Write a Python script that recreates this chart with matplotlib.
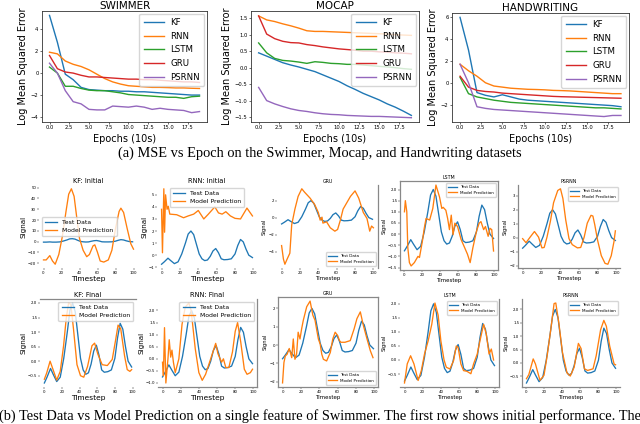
import matplotlib
matplotlib.use("Agg")
import matplotlib.pyplot as plt

W, H = 640, 424

# ---------------- (a) MSE vs epoch ----------------
epochs = list(range(20))
models = ["KF", "RNN", "LSTM", "GRU", "PSRNN"]

swimmer_kf = [5.25, 2.8, -0.1, -0.6, -1.3, -1.5, -1.55, -1.6, -1.6, -1.65, -1.65, -1.7, -1.7, -1.75, -1.8, -1.85, -1.9, -1.95, -2.0, -2.0]
swimmer_rnn = [1.9, 1.75, 1.1, 0.8, 0.6, 0.3, -0.1, -0.5, -0.8, -1.0, -1.15, -1.2, -1.25, -1.3, -1.3, -1.32, -1.35, -1.35, -1.38, -1.4]
swimmer_lstm = [0.55, 0.0, -1.2, -1.2, -1.4, -1.55, -1.6, -1.6, -1.7, -1.8, -1.95, -2.0, -2.05, -2.1, -2.15, -2.2, -2.2, -2.3, -2.15, -2.1]
swimmer_gru = [1.6, 0.4, 0.1, 0.0, -0.2, -0.35, -0.35, -0.4, -0.45, -0.5, -0.55, -0.55, -0.6, -0.6, -0.65, -0.7, -0.75, -0.8, -0.8, -0.85]
swimmer_psrnn = [0.9, 0.0, -1.6, -2.6, -2.8, -3.3, -3.35, -3.35, -3.0, -3.05, -3.1, -3.0, -3.1, -3.3, -3.2, -3.3, -3.35, -3.4, -3.6, -3.5]

mocap_kf = [0.45, 0.35, 0.25, 0.15, 0.08, 0.02, -0.05, -0.12, -0.22, -0.32, -0.42, -0.55, -0.66, -0.78, -0.88, -0.98, -1.1, -1.2, -1.32, -1.45]
mocap_rnn = [1.57, 1.45, 1.4, 1.33, 1.27, 1.2, 1.12, 1.1, 1.1, 1.09, 1.08, 1.07, 1.06, 1.05, 1.04, 1.03, 1.02, 1.0, 0.99, 0.98]
mocap_lstm = [0.75, 0.45, 0.28, 0.22, 0.2, 0.17, 0.13, 0.18, 0.16, 0.13, 0.12, 0.1, 0.1, 0.08, 0.06, 0.04, 0.02, 0.0, -0.03, -0.05]
mocap_gru = [1.57, 1.02, 0.88, 0.8, 0.76, 0.75, 0.7, 0.67, 0.63, 0.6, 0.57, 0.55, 0.53, 0.5, 0.5, 0.48, 0.47, 0.45, 0.44, 0.42]
mocap_psrnn = [-0.6, -1.0, -1.1, -1.18, -1.25, -1.3, -1.33, -1.37, -1.4, -1.42, -1.43, -1.45, -1.46, -1.47, -1.48, -1.48, -1.49, -1.5, -1.51, -1.52]

hw_kf = [6.0, 3.0, -0.9, -1.15, -1.3, -1.1, -1.3, -1.5, -1.6, -1.65, -1.7, -1.75, -1.8, -1.85, -1.9, -1.95, -2.0, -2.05, -2.1, -2.2]
hw_rnn = [1.7, 1.1, 0.6, 0.0, -0.3, -0.4, -0.5, -0.55, -0.6, -0.62, -0.65, -0.7, -0.72, -0.75, -0.8, -0.85, -0.9, -0.95, -1.0, -1.0]
hw_lstm = [0.5, -1.0, -1.3, -1.45, -1.6, -1.7, -1.8, -1.85, -1.9, -1.95, -2.0, -2.05, -2.1, -2.15, -2.2, -2.25, -2.3, -2.3, -2.35, -2.4]
hw_gru = [0.6, -0.4, -0.7, -0.8, -0.85, -0.95, -1.0, -1.05, -1.1, -1.15, -1.2, -1.25, -1.28, -1.3, -1.32, -1.34, -1.36, -1.38, -1.4, -1.42]
hw_psrnn = [1.7, 0.0, -2.2, -2.35, -2.45, -2.5, -2.55, -2.6, -2.65, -2.7, -2.75, -2.8, -2.85, -2.9, -2.95, -3.0, -3.05, -3.1, -3.0, -3.0]

# ---------------- (b) test data vs prediction ----------------
test_t = [0, 3, 7, 10, 14, 18, 22, 26, 29, 32, 35, 38, 41, 44, 47, 50, 53, 56, 59, 62, 65, 68, 72, 76, 80, 83, 86, 89, 92, 95, 99]
test_v = [-0.75, -0.55, -0.25, -0.45, -0.7, -0.55, 0.1, 1.0, 1.75, 2.0, 1.7, 0.9, 0.1, -0.3, -0.45, -0.4, -0.1, 0.35, 0.55, 0.2, -0.3, -0.38, -0.36, -0.3, 0.1, 0.8, 1.3, 1.1, 0.5, 0.0, -0.2]

kf_init_t = [0, 3, 7, 10, 13, 17, 21, 25, 28, 31, 34, 37, 40, 44, 48, 51, 55, 57, 60, 63, 67, 72, 76, 80, 84, 86, 89, 93, 97, 100]
kf_init_v = [-17, -17, -13, -18, -21, -12, 5, 28, 44, 49, 42, 22, 3, -8, -14, -12, -4, -3, -10, -18, -19, -17, -8, 12, 28, 31, 27, 12, -2, -7]
kf_init_test = [-0.5, -0.5, -0.3, -0.5, -0.5, -0.3, 0.5, 1.5, 2.5, 2.7, 2.3, 1.2, 0.2, -0.2, -0.4, -0.3, 0.3, 0.8, 1.0, 0.5, -0.2, -0.3, -0.3, -0.2, 0.4, 1.2, 1.8, 1.5, 0.7, 0.1, -0.2]

rnn_init_t = [0, 1, 2.5, 3.3, 4.4, 6, 7.3, 9, 16.5, 24, 29, 35, 40, 46, 51, 58, 62, 66, 70, 75, 80, 86, 93, 99]
rnn_init_v = [3.8, 0.2, 5.5, 1.9, 5.0, 3.8, 4.05, 3.4, 3.35, 3.1, 3.25, 3.4, 3.7, 3.0, 3.4, 4.0, 3.5, 3.4, 3.6, 3.25, 3.05, 3.0, 3.9, 3.25]

gru_init_t = [0, 2, 3.6, 6, 9, 11, 14.5, 18, 22, 25, 31, 36, 40, 42, 44, 45, 49, 53, 58, 61, 64, 67, 75, 80, 84, 89, 93, 96, 98, 100]
gru_init_v = [-3.3, -4.9, -5.5, -4.9, -4.2, -0.85, 1.0, 2.5, 3.4, 3.0, 2.3, 1.55, 0.6, -0.3, 0.05, -0.65, -0.5, -1.2, -1.6, -1.4, -0.3, 1.0, 2.5, 3.15, 2.3, 0.6, -0.1, -1.6, -1.0, -1.2]

lstm_init_t = [0, 1, 2.6, 3.7, 5.5, 7.4, 11, 15, 16.7, 20, 22, 24, 28, 31.5, 35, 39, 41.5, 43, 46, 48, 50, 52, 54, 56, 59, 63, 67, 70, 73, 76, 80, 83, 85, 88, 90, 93, 95, 97, 99]
lstm_init_v = [1.0, 1.5, 1.0, -0.6, -1.28, -1.43, -1.28, -1.0, -1.05, -0.3, 0.26, 0.7, 0.63, 1.15, 2.2, 1.66, 1.15, 1.2, 1.07, 0.7, 0.2, 0.85, -0.03, 0.49, 0.34, -0.25, -0.62, -0.9, -1.28, -0.62, 0.12, 0.49, 0.56, 0.2, 0.34, -0.1, 0.26, 0.2, -0.76]

psrnn_init_t = [0, 3.6, 8, 12.6, 17, 20.6, 23, 26, 29.6, 33, 37.5, 40.4, 43, 46, 49.5, 53, 58.5, 62, 65.7, 69, 73, 75, 77, 80, 84, 88, 91, 94.6, 97.5, 99]
psrnn_init_v = [-0.07, -0.36, 0.04, 0.44, 0.04, -0.73, -0.7, 0.04, 1.16, 2.5, 3.38, 3.5, 2.8, 1.27, -0.07, -0.5, -0.73, -0.7, 0.04, 1.04, 1.6, 1.55, 0.93, -0.18, -1.29, -1.84, -1.9, -1.29, -0.29, 0.49]

kf_final_t = [0, 2.7, 6.5, 10, 14, 18, 21.8, 24.8, 27.5, 30, 33, 37, 41, 44.7, 49, 54, 57, 60.7, 65.6, 71.4, 77, 81, 83.6, 86.6, 91, 94, 97, 99]
kf_final_v = [-0.62, -0.4, 0.0, -0.3, -0.65, -0.35, 0.53, 1.47, 2.0, 1.95, 1.12, -0.12, -0.5, -0.55, -0.18, 0.53, 0.62, 0.24, -0.12, -0.15, 0.06, 0.76, 1.24, 1.12, 0.18, -0.29, -0.35, -0.29]

rnn_final_t = [0, 1, 2.2, 3.7, 6, 7.4, 9, 10.4, 12, 14, 18, 21.5, 25, 29, 31.5, 36, 40, 43.7, 47.4, 53, 58.5, 61, 65, 67, 69.6, 73, 77, 80, 82.6, 86, 90, 93, 96.7, 99]
rnn_final_v = [-0.14, -0.7, 1.29, -1.0, 0.0, 0.79, 0.07, 0.36, -0.14, -0.57, 0.0, 1.43, 2.14, 2.31, 2.0, 0.43, -0.57, -0.89, -0.64, 0.0, 0.64, 0.21, -0.14, 0.0, -0.36, -0.36, 0.29, 1.14, 1.5, 0.71, -0.43, -0.64, -0.57, -0.43]

gru_final_t = [0, 1.5, 3, 5, 7.3, 10, 11.7, 13.5, 15.3, 17, 19, 20.8, 22.6, 26.3, 30, 33, 35.4, 37, 39, 41, 42.7, 44.5, 48, 52, 54.7, 57.3, 60, 62, 63.5, 68, 73.7, 78, 81, 84.7, 88, 92, 95.6, 98.5]
gru_final_v = [-2.07, -0.96, -0.6, -0.5, -0.19, -0.69, 0.33, -0.78, -0.5, 0.7, 0.33, 0.89, 1.35, 2.09, 2.4, 1.63, 1.35, 0.89, 0.33, 0.05, -0.5, -0.78, -0.87, -0.41, 0.33, 0.7, 0.52, 0.24, 0.15, 0.15, 0.24, 0.89, 1.44, 1.81, 1.07, 0.33, -0.31, -0.69]

lstm_final_t = [0, 3, 6.7, 10.4, 15, 18.5, 22, 26, 30, 33.5, 37, 40, 43.5, 46, 50, 54, 57, 59, 62, 65, 68.5, 73, 76, 80, 83, 87, 90, 93, 95.5, 98]
lstm_final_v = [-0.82, -0.14, 0.15, -0.14, -0.73, -0.38, 0.21, 0.68, 1.27, 2.03, 1.6, 0.68, 0.0, -0.26, -0.32, -0.02, 0.5, 0.45, -0.14, -0.38, -0.4, -0.49, -0.14, 0.21, 0.68, 1.27, 0.92, 0.21, 0.39, 0.0]

psrnn_final_t = [0, 2.6, 7.5, 10, 15, 19.5, 23, 27, 30.7, 32.6, 36, 40, 45, 48.7, 53, 57.7, 60.7, 64.4, 68, 74, 77.5, 82.4, 86, 88.8, 92.5, 97.4, 99]
psrnn_final_v = [-0.59, -0.44, 0.15, -0.04, -0.65, -0.46, 0.27, 1.24, 2.22, 2.24, 1.49, 0.39, -0.37, -0.49, -0.16, 0.73, 0.54, -0.22, -0.28, -0.22, 0.27, 1.24, 1.59, 1.37, 0.63, -0.04, -0.07]

fig = plt.figure(figsize=(6.4, 4.24), dpi=100)


def px_axes(l, t, r, b):
    return fig.add_axes([l / W, 1 - b / H, (r - l) / W, (b - t) / H])


# top row
top_panels = [
    ("SWIMMER", (42, 11, 207, 122), [swimmer_kf, swimmer_rnn, swimmer_lstm, swimmer_gru, swimmer_psrnn], (-4.45, 5.65)),
    ("MOCAP", (251, 11, 419, 122), [mocap_kf, mocap_rnn, mocap_lstm, mocap_gru, mocap_psrnn], (-1.65, 1.72)),
    ("HANDWRITING", (452, 13, 629, 122), [hw_kf, hw_rnn, hw_lstm, hw_gru, hw_psrnn], (-3.6, 6.4)),
]
for title, rect, series, ylim in top_panels:
    ax = px_axes(*rect)
    for name, vals in zip(models, series):
        ax.plot(epochs, vals, lw=1.0, label=name)
    ax.set_ylim(ylim)
    ax.set_title(title, fontsize=7.5, pad=1.5)
    ax.set_xticks([0, 2.5, 5, 7.5, 10, 12.5, 15, 17.5])
    ax.tick_params(labelsize=3.8, length=1.5, width=0.4, pad=1)
    ax.set_xlabel("Epochs (10s)", fontsize=7, labelpad=2.5)
    ax.set_ylabel("Log Mean Squared Error", fontsize=7, labelpad=2)
    for s in ax.spines.values():
        s.set_linewidth(0.6)
        s.set_color("#333333")
    ax.legend(loc="upper right", fontsize=6.2, borderaxespad=0.3,
              handlelength=2.3, labelspacing=0.55, borderpad=0.5)

fig.text(0.5, 1 - 153 / H, "(a) MSE vs Epoch on the Swimmer, Mocap, and Handwriting datasets",
         ha="center", va="center", fontsize=10.4, family="Liberation Serif")

# bottom grid
bottom_panels = [
    ("KF: Initial", (39, 185, 138, 268), kf_init_t, kf_init_v, kf_init_test, "center left", [], 4.8),
    ("RNN: Initial", (157, 185, 257, 268), rnn_init_t, rnn_init_v, None, "upper center", [], 4.8),
    ("GRU", (277, 185, 378, 268), gru_init_t, gru_init_v, None, "lower right", ["right"], 3.4),
    ("LSTM", (400, 181, 498, 270), lstm_init_t, lstm_init_v, None, "upper right", ["left", "top", "right", "bottom"], 3.4),
    ("PSRNN", (518, 185, 620, 268), psrnn_init_t, psrnn_init_v, None, "upper right", ["left", "bottom"], 3.4),
    ("KF: Final", (40, 299, 136, 387), kf_final_t, kf_final_v, None, "upper right", ["top"], 4.8),
    ("RNN: Final", (158, 299, 257, 387), rnn_final_t, rnn_final_v, None, "upper right", ["right", "bottom"], 4.8),
    ("GRU", (278, 297, 378, 387), gru_final_t, gru_final_v, None, "lower right", ["left", "top", "right", "bottom"], 3.4),
    ("LSTM", (400, 299, 499, 387), lstm_final_t, lstm_final_v, None, "upper right", ["right", "bottom"], 3.4),
    ("PSRNN", (522, 299, 620, 387), psrnn_final_t, psrnn_final_v, None, "upper right", ["left", "bottom"], 3.4),
]
for title, rect, pt, pv, tv, loc, spines, fs in bottom_panels:
    ax = px_axes(*rect)
    ax.plot(test_t, tv if tv is not None else test_v, color="#1f77b4", lw=0.95, label="Test Data")
    ax.plot(pt, pv, color="#ff7f0e", lw=0.95, label="Model Prediction")
    ax.set_xticks([0, 20, 40, 60, 80, 100])
    ax.tick_params(labelsize=2.8, length=1.2, width=0.3, pad=0.8)
    ax.set_title(title, fontsize=fs, pad=1.5)
    ax.set_xlabel("Timestep", fontsize=fs + 0.6, labelpad=1)
    ax.set_ylabel("Signal", fontsize=fs + 0.4, labelpad=1)
    for name, s in ax.spines.items():
        s.set_visible(name in spines)
        s.set_color("#888888")
        s.set_linewidth(0.9)
    ax.legend(loc=loc, fontsize=fs - 0.4, handlelength=2.0, borderpad=0.5, labelspacing=0.4)

fig.text(-0.002, 1 - 416 / H,
         "(b) Test Data vs Model Prediction on a single feature of Swimmer. The first row shows initial performance. The",
         ha="left", va="center", fontsize=10.4, family="Liberation Serif")

fig.savefig("out.png", dpi=100)
